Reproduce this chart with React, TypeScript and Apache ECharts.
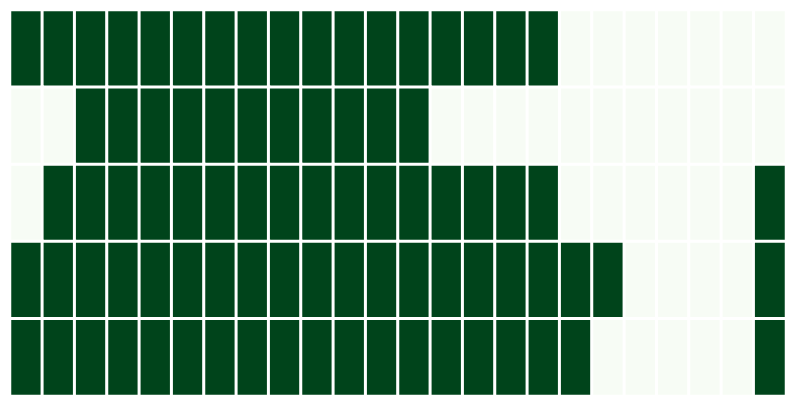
import React, { useEffect, useRef } from "react";
import * as echarts from "echarts";

const columns = Array.from({ length: 24 }, (_, i) => String(i));
const rows = ["0", "1", "2", "3", "4"];
const row0 = [1,1,1,1,1,1,1,1,1,1,1,1,1,1,1,1,1,0,0,0,0,0,0,0];
const row1 = [0,0,1,1,1,1,1,1,1,1,1,1,1,0,0,0,0,0,0,0,0,0,0,0];
const row2 = [0,1,1,1,1,1,1,1,1,1,1,1,1,1,1,1,1,0,0,0,0,0,0,1];
const row3 = [1,1,1,1,1,1,1,1,1,1,1,1,1,1,1,1,1,1,1,0,0,0,0,1];
const row4 = [1,1,1,1,1,1,1,1,1,1,1,1,1,1,1,1,1,1,0,0,0,0,0,1];
const grid = [row0, row1, row2, row3, row4];

export default function App() {
  const ref = useRef<HTMLDivElement>(null);
  useEffect(() => {
    if (!ref.current) return;
    const chart = echarts.init(ref.current, null, { renderer: "svg" });
    const data: number[][] = [];
    grid.forEach((r, y) => r.forEach((v, x) => data.push([x, y, v])));
    chart.setOption({
      animation: false,
      grid: { left: 2, right: 0, top: 2, bottom: 1 },
      xAxis: { type: "category", data: columns, show: false },
      yAxis: { type: "category", data: rows, show: false, inverse: true },
      visualMap: {
        show: false,
        min: 0,
        max: 1,
        inRange: { color: ["#f7fcf5", "#00441b"] },
      },
      series: [
        {
          type: "heatmap",
          data,
          itemStyle: { borderColor: "#ffffff", borderWidth: 3 },
          emphasis: { disabled: true },
        },
      ],
    });
    return () => chart.dispose();
  }, []);
  return <div ref={ref} style={{ width: 778, height: 389 }} />;
}
